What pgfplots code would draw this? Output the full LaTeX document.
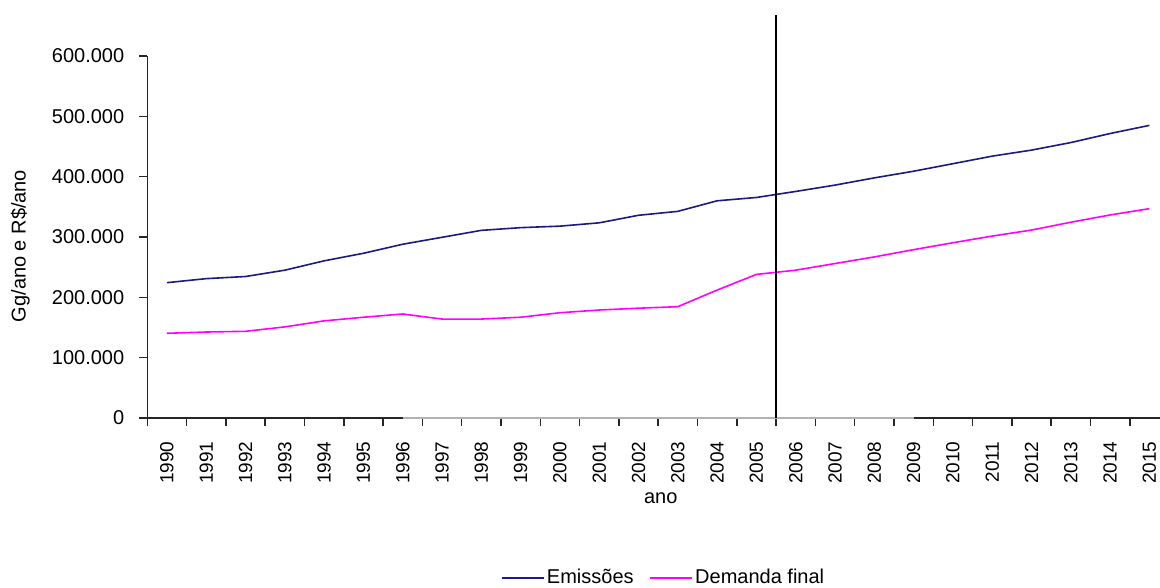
\documentclass[border=0pt]{standalone}
\usepackage{fontspec}
\setmainfont{Liberation Sans}
\usepackage{pgfplots}
\usepackage{pgfplotstable}
\pgfplotsset{compat=1.18}
\definecolor{emis}{HTML}{1A1A80}
\definecolor{demanda}{HTML}{FF00FF}
\definecolor{axisink}{HTML}{262626}

% ano, emissoes (Gg/ano), demanda final (R$/ano)
\pgfplotstableread{
idx ano  emis   demanda
0   1990 224300 140400
1   1991 231000 142500
2   1992 234500 143700
3   1993 245000 151000
4   1994 260500 161000
5   1995 273000 167000
6   1996 288000 172400
7   1997 299500 164000
8   1998 311000 164000
9   1999 315500 167000
10  2000 318000 174500
11  2001 323500 179000
12  2002 336000 182000
13  2003 342500 184500
14  2004 360000 212000
15  2005 365500 238000
16  2006 375500 245000
17  2007 386000 256000
18  2008 398000 267000
19  2009 409000 279000
20  2010 421500 290500
21  2011 434000 301500
22  2012 444000 311500
23  2013 456500 324500
24  2014 471500 336500
25  2015 485000 347000
}\dados

\begin{document}
\begin{tikzpicture}
\begin{axis}[
  scale only axis,
  width=506.35pt, height=181pt,
  xmin=-0.5, xmax=25.27,
  ymin=0, ymax=600000,
  clip=false,
  axis x line*=bottom, axis y line*=left,
  axis line style={color=axisink, line width=0.75pt},
  tick align=outside,
  major tick length=4pt, minor tick length=4pt,
  tick style={color=axisink, line width=0.75pt},
  xtick={0,...,25},
  xticklabels={1990,1991,1992,1993,1994,1995,1996,1997,1998,1999,2000,2001,2002,2003,2004,2005,2006,2007,2008,2009,2010,2011,2012,2013,2014,2015},
  major x tick style={draw=none},
  minor xtick={-0.5,0.5,...,24.5},
  xticklabel style={yshift=-4.2pt, rotate=90, anchor=east, font=\fontsize{9.5}{11}\selectfont},
  ytick={0,100000,...,600000},
  scaled y ticks=false,
  /pgf/number format/assume math mode=true,
  yticklabel={\pgfmathprintnumber[fixed,precision=0,1000 sep={.}]{\tick}},
  yticklabel style={xshift=-4pt, font=\fontsize{10}{12}\selectfont},
  xlabel={ano},
  xlabel style={at={(axis description cs:0.507,-0.221)}, anchor=center, font=\fontsize{10}{12}\selectfont},
  ylabel={Gg/ano e R\$/ano},
  ylabel style={at={(axis description cs:-0.1254,0.475)}, anchor=center, rotate=0, font=\fontsize{10}{12}\selectfont},
  legend columns=2,
  legend style={draw=none, fill=none, at={(axis description cs:0.510,-0.442)}, anchor=center,
    font=\fontsize{10}{12}\selectfont,
    /tikz/every even column/.append style={column sep=7pt},
    nodes={inner xsep=1pt}},
  legend image code/.code={\draw[#1] (0pt,0pt) -- (21pt,0pt);},
]
\addplot[emis, line width=0.8pt] table[x=idx, y=emis]{\dados};
\addplot[demanda, line width=0.8pt] table[x=idx, y=demanda]{\dados};
\addplot[gray!60, line width=1pt, forget plot] coordinates {(6,0) (19,0)};
\addplot[black, line width=0.75pt, forget plot] coordinates {(15.5,0) (15.5,668000)};
\legend{Emissões, Demanda final}
\end{axis}
\pgfresetboundingbox
\path ([xshift=-73.65pt,yshift=-85pt]current axis.south west) rectangle ([yshift=28pt]current axis.north east);
\end{tikzpicture}
\end{document}
